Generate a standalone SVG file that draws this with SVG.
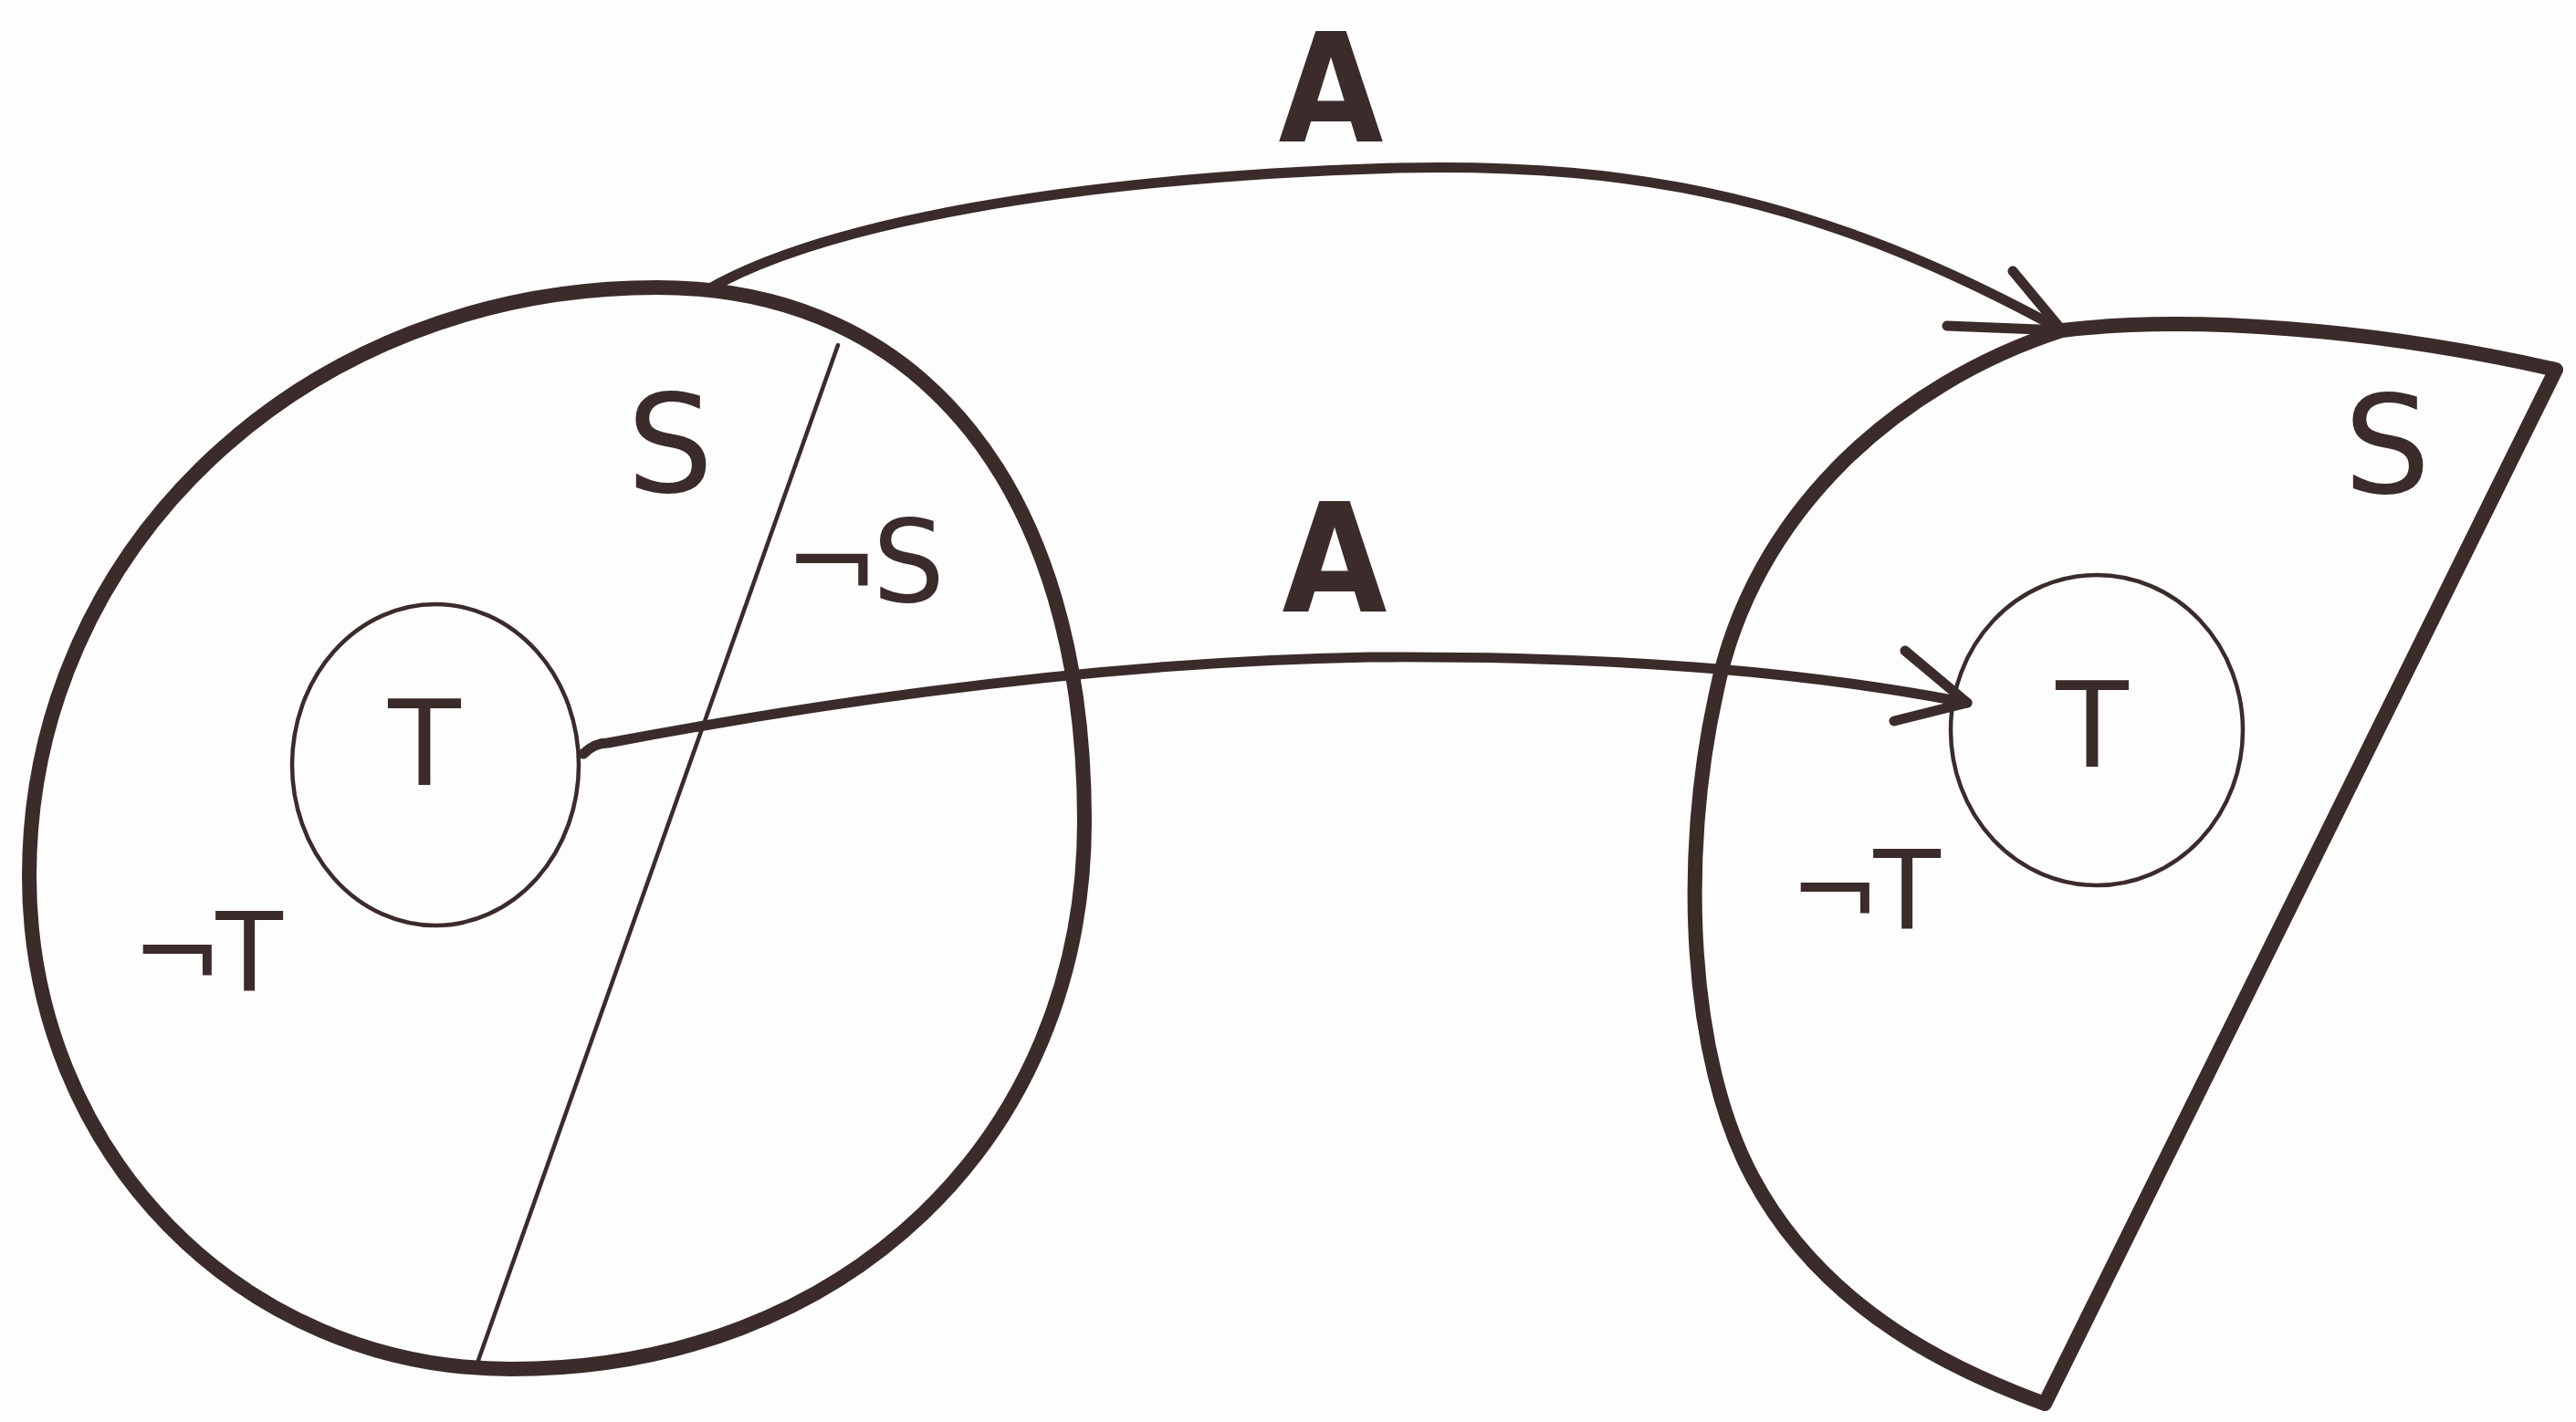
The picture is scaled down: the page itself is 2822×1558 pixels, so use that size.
<svg xmlns="http://www.w3.org/2000/svg" width="2822" height="1558" viewBox="0 0 2822 1558">
<style>
.thick{fill:none;stroke:#3b2b2b;stroke-width:16;stroke-linecap:round;stroke-linejoin:round}
.thin{fill:none;stroke:#3b2b2b;stroke-width:4.5;stroke-linecap:round}
.arrow{fill:none;stroke:#3b2b2b;stroke-width:11;stroke-linecap:round;stroke-linejoin:round}
.lbl{font-family:"DejaVu Sans","Liberation Sans",sans-serif;fill:#3b2b2b;text-anchor:middle}
.big{font-family:"DejaVu Sans Condensed","DejaVu Sans",sans-serif;font-weight:bold;font-size:165px}
</style>
<rect width="2822" height="1558" fill="#fdfdfd"/>
<g id="left-set">
<path class="thick" d="M720 315 C1010 315 1188 537 1188 900 C1188 1248 924 1500 560 1500 C264 1500 32 1262 32 960 C32 599 335 315 720 315 Z"/>
<path class="thin" d="M918 378 C840 600 700 1000 522 1496"/>
<text class="lbl" x="734" y="539" font-size="150">S</text>
<text class="lbl" x="943" y="659" font-size="125" letter-spacing="-8">¬S</text>
<text class="lbl" x="223" y="1085" font-size="120" letter-spacing="-8">¬T</text>
</g>
<g id="left-T">
<ellipse class="thin" cx="477" cy="838" rx="157" ry="176"/>
<text class="lbl" x="465" y="860" font-size="130">T</text>
</g>
<g id="right-set">
<path class="thick" d="M2259 362 C2400 345 2600 360 2800 405 L2240 1538 C2150 1505 2000 1440 1920 1290 C1850 1160 1840 940 1880 760 C1920 560 2080 420 2259 362 Z"/>
<text class="lbl" x="2615" y="540" font-size="150">S</text>
<text class="lbl" x="2039" y="1017" font-size="120" letter-spacing="-8">¬T</text>
</g>
<g id="right-T">
<ellipse class="thin" cx="2297" cy="800" rx="160" ry="170"/>
<text class="lbl" x="2292" y="840" font-size="130">T</text>
</g>
<g id="connectors">
<path class="arrow" d="M774 318 C900 245 1170 195 1530 184 C1800 178 2000 220 2259 362"/>
<polyline class="arrow" points="2205,297 2259,362 2133,357"/>
<text class="lbl big" x="1458" y="155">A</text>
<path class="arrow" d="M639 826 C650 815 660 814 666 814 C900 770 1200 725 1500 720 C1800 718 2000 740 2155 770"/>
<polyline class="arrow" points="2087,713 2155,770 2075,790"/>
<text class="lbl big" x="1462" y="670">A</text>
</g>
</svg>
